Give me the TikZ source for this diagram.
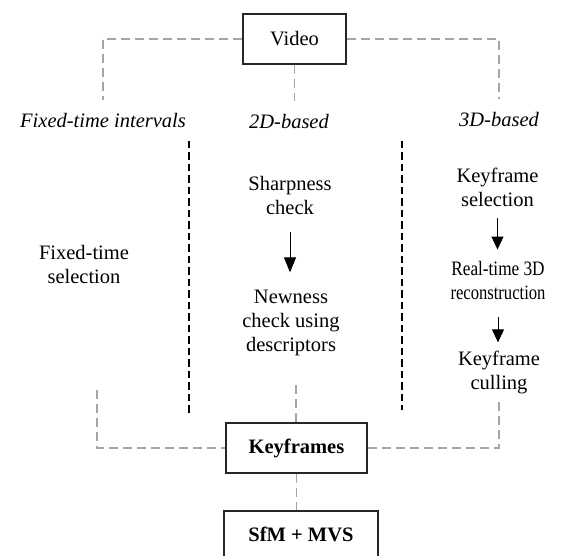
\documentclass[tikz,border=0pt]{standalone}
\usepackage{fontspec}
\usepackage{graphicx}
\setmainfont{Liberation Serif}
\usetikzlibrary{arrows.meta}
\definecolor{dashgray}{RGB}{165,165,165}
\begin{document}
\begin{tikzpicture}[x=1pt,y=-1pt,
  every node/.style={font=\fontsize{20.5}{24}\selectfont, inner sep=0pt},
  box/.style={draw=black!85, line width=1.2pt, minimum height=50pt},
  txt/.style={align=center, anchor=base},
  link/.style={draw=dashgray, line width=1.4pt, dash pattern=on 9pt off 5pt},
  divider/.style={draw=black, line width=2.2pt, dash pattern=on 7.5pt off 4pt},
  flow/.style={draw=black, line width=0.9pt, -{Triangle[width=12pt,length=15pt]}},
  flowsm/.style={draw=black, line width=0.9pt, -{Triangle[width=12pt,length=13pt]}}]
\useasboundingbox (0,0) rectangle (566,556);
\clip (0,0) rectangle (566,556);
% top
\node[box, minimum width=103pt] (video) at (294.5,39) {Video};
\node[txt] (lab1) at (103,128) {\itshape Fixed-time intervals};
\node[txt] (lab2) at (289,129) {\itshape 2D-based};
\node[txt] (lab3) at (499,127) {\itshape 3D-based};
\draw[link, shorten >=14pt] (video.west) -| (lab1.north);
\draw[link, shorten >=14pt] (video.south) -- (video.south |- lab2.north);
\draw[link, shorten >=14pt] (video.east) -| (lab3.north);
% dividers
\draw[divider] (189,141) -- (189,415);
\draw[divider] (402,141) -- (402,410);
% columns (base anchor = last line baseline)
\node[txt] (fsel) at (84,284) {Fixed-time\\selection};
\node[txt] (sharp) at (290,215) {Sharpness\\check};
\node[txt] (new) at (291,352) {Newness\\check using\\descriptors};
\draw[flow, shorten <=17pt, shorten >=18pt] (sharp.south) -- (sharp.south |- new.north);
\node[txt] (ksel) at (497.5,207) {Keyframe\\selection};
\node[txt] (recon) at (498,300) {\scalebox{0.84}[1]{Real-time 3D}\\\scalebox{0.81}[1]{reconstruction}};
\node[txt] (cull) at (499,390) {Keyframe\\culling};
\draw[flowsm, shorten <=11pt, shorten >=12pt] (ksel.south) -- (ksel.south |- recon.north);
\draw[flowsm, shorten <=17pt, shorten >=9pt] (recon.south) -- (recon.south |- cull.north);
% bottom
\node[box, minimum width=141pt] (kf) at (296.5,448) {\bfseries Keyframes};
\node[box, minimum width=154pt, minimum height=46pt] (sfm) at (301,534) {\bfseries SfM + MVS};
\coordinate (lf) at (97,390);
\coordinate (mk) at (296,385);
\draw[link] (lf) |- (kf.west);
\draw[link] (mk) -- (mk |- kf.north);
\draw[link, shorten >=5.5pt] (kf.east) -| (cull.south);
\draw[link] (kf.south) -- (kf.south |- sfm.north);
\end{tikzpicture}
\end{document}
